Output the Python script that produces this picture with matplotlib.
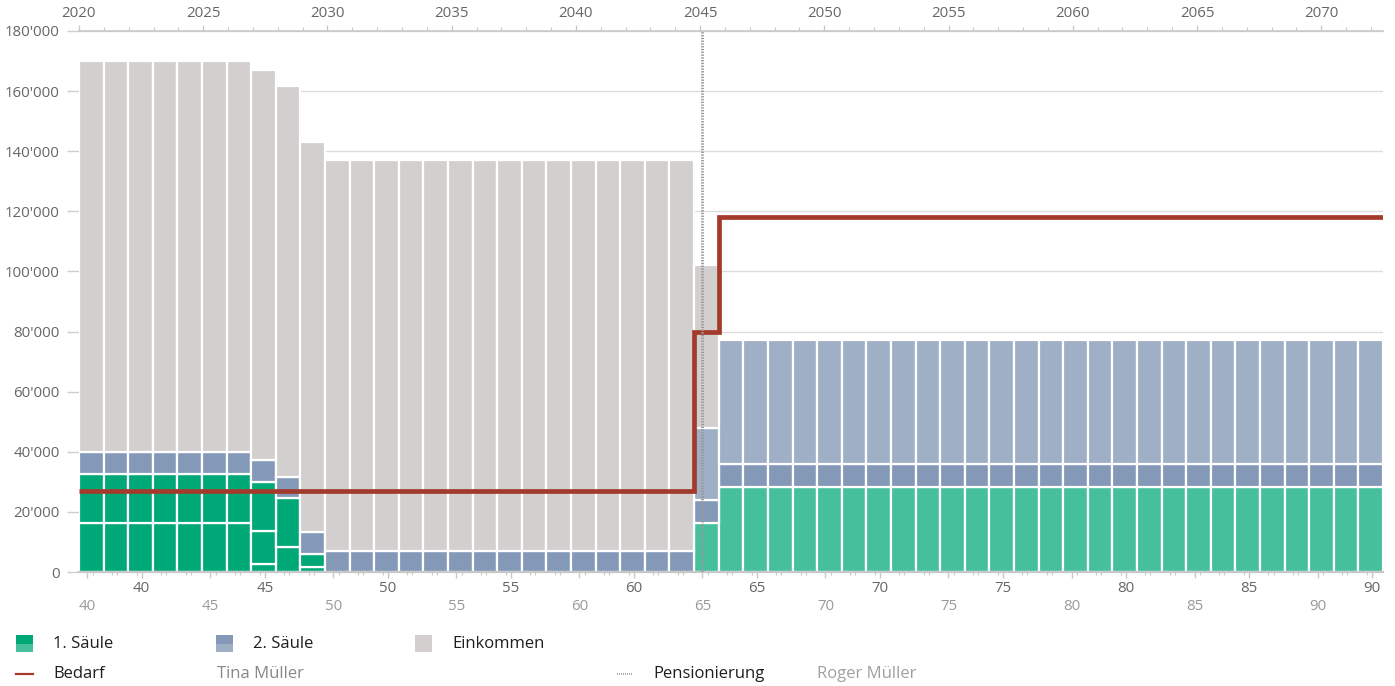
import numpy as np
import matplotlib
matplotlib.use("Agg")
import matplotlib.pyplot as plt
from matplotlib.patches import Rectangle
from matplotlib.lines import Line2D
from matplotlib.ticker import FuncFormatter, MultipleLocator

plt.rcParams['font.family'] = ['Open Sans', 'DejaVu Sans']

# ---------------- data ----------------
years = list(range(2020, 2073))  # 53 bars
n = len(years)

def seg(*parts):
    out = []
    for val, count in parts:
        out += [val] * count
    return out

# 1. Säule (dark green, three sub-segments in early years)
s1_dark_a = seg((16200, 7), (2600, 1), (8200, 1), (1800, 1), (0, 43))
s1_dark_b = seg((16300, 7), (11000, 1), (16300, 1), (4200, 1), (0, 43))
s1_dark_c = seg((0, 7), (16200, 1), (0, 45))
# 1. Säule (light green, after retirement)
s1_light = seg((0, 25), (16200, 1), (28200, 27))
# 2. Säule dark / light
s2_dark = seg((7500, 8), (7200, 2), (7100, 15), (7800, 1), (7700, 27))
s2_light = seg((0, 25), (24000, 1), (41300, 27))
# Einkommen
income = seg((130000, 7), (129700, 1), (130000, 1), (129800, 1), (129900, 15), (54000, 1), (0, 27))
# Bedarf
bedarf = seg((27000, 25), (80000, 1), (118000, 27))

# ages (relative to bar index) and retirement
tina_age_offset = 37.45
roger_age_offset = 39.66
retire_age_roger = 65

# ---------------- style ----------------
C_GREEN_D = '#00a878'
C_GREEN_L = '#46c09c'
C_BLUE_D = '#8499b8'
C_BLUE_L = '#9eafc6'
C_GRAY = '#d3cfcf'
C_RED = '#a23b2c'
C_TICK = '#666666'
C_TICK2 = '#9a9a9a'
C_AX = '#c8c8c8'

W, H = 1395, 686
fig = plt.figure(figsize=(W / 100, H / 100), dpi=100)
L, R, T, B = 79, 1383, 31, 572
ax = fig.add_axes([L / W, 1 - B / H, (R - L) / W, (B - T) / H])

x = np.arange(n)
stack = [
    (s1_dark_a, C_GREEN_D),
    (s1_dark_b, C_GREEN_D),
    (s1_dark_c, C_GREEN_D),
    (s1_light, C_GREEN_L),
    (s2_dark, C_BLUE_D),
    (s2_light, C_BLUE_L),
    (income, C_GRAY),
]
bottom = np.zeros(n)
for vals, col in stack:
    v = np.array(vals, dtype=float)
    m = v > 0
    ax.bar(x[m] + 0.5, v[m], width=1.0, bottom=bottom[m], color=col,
           edgecolor='white', linewidth=1.6, zorder=2)
    bottom += v

# Bedarf step line
xs = np.arange(n + 1)
ys = np.array(bedarf + [bedarf[-1]], dtype=float)
ax.step(xs, ys, where='post', color=C_RED, lw=3.4, zorder=5,
        solid_joinstyle='miter', solid_capstyle='butt')

# retirement line
ret_x = retire_age_roger - roger_age_offset
ax.axvline(ret_x, color='#999999', lw=2.0, dashes=(0.5, 0.5), zorder=6)

ax.set_xlim(0, n)
ax.set_ylim(0, 180000)
ax.set_yticks(np.arange(0, 180001, 20000))
ax.yaxis.set_major_formatter(FuncFormatter(lambda v, p: f"{int(v):,}".replace(',', "'")))
ax.grid(axis='y', color='#dcdcdc', lw=1.0, zorder=0)
ax.set_axisbelow(True)
for s in ['left', 'right']:
    ax.spines[s].set_visible(False)
ax.spines['top'].set_color(C_AX)
ax.spines['top'].set_linewidth(1.2)
ax.spines['bottom'].set_color(C_AX)
ax.spines['bottom'].set_linewidth(1.6)
ax.tick_params(axis='y', length=9, width=1, color='#cfcfcf', pad=5,
               labelsize=10.8, labelcolor=C_TICK)
ax.tick_params(axis='x', bottom=False, labelbottom=False, top=False)

# top year axis
k = 0.9903
top = ax.secondary_xaxis('top', functions=(lambda b: 2020 + b * k, lambda y: (y - 2020) / k))
top.set_xticks(np.arange(2020, 2071, 5))
top.xaxis.set_minor_locator(MultipleLocator(1))
top.tick_params(which='major', length=4.5, width=1, color=C_AX, pad=3,
                labelsize=10.8, labelcolor=C_TICK)
top.tick_params(which='minor', length=3, width=0.8, color=C_AX)
top.spines['top'].set_visible(False)

# bottom: Tina ages
tina = ax.secondary_xaxis('bottom', functions=(lambda b: b + tina_age_offset,
                                                 lambda a: a - tina_age_offset))
tina.set_xticks(np.arange(40, 91, 5))
tina.xaxis.set_minor_locator(MultipleLocator(1))
tina.tick_params(which='major', length=4.5, width=1, color=C_AX, pad=2,
                 labelsize=10.8, labelcolor=C_TICK)
tina.tick_params(which='minor', length=2.5, width=0.8, color=C_AX)
tina.spines['bottom'].set_visible(False)

# bottom: Roger ages
roger = ax.secondary_xaxis('bottom', functions=(lambda b: b + roger_age_offset,
                                                  lambda a: a - roger_age_offset))
roger.set_xticks(np.arange(40, 91, 5))
roger.xaxis.set_minor_locator(MultipleLocator(1))
roger.tick_params(which='major', length=4.5, width=1, color=C_AX, pad=15,
                  labelsize=10.8, labelcolor=C_TICK2)
roger.tick_params(which='minor', length=2.5, width=0.8, color=C_AX)
roger.spines['bottom'].set_visible(False)

# ---------------- legend ----------------
def fx(px):
    return px / W

def fy(py):
    return 1 - py / H

def swatch(x0, c_top, c_bot):
    if c_bot is None:
        fig.add_artist(Rectangle((fx(x0), fy(652)), 17 / W, 17 / H,
                                 transform=fig.transFigure, color=c_top, lw=0))
    else:
        fig.add_artist(Rectangle((fx(x0), fy(643.5)), 17 / W, 8.5 / H,
                                 transform=fig.transFigure, color=c_top, lw=0))
        fig.add_artist(Rectangle((fx(x0), fy(652)), 17 / W, 8.5 / H,
                                 transform=fig.transFigure, color=c_bot, lw=0))

LEG_FS = 12
swatch(16, C_GREEN_D, C_GREEN_L)
fig.text(fx(53), fy(644), '1. Säule', fontsize=LEG_FS, color='#1e1e1e', va='center')
swatch(216, C_BLUE_D, C_BLUE_L)
fig.text(fx(253), fy(644), '2. Säule', fontsize=LEG_FS, color='#1e1e1e', va='center')
swatch(415, C_GRAY, None)
fig.text(fx(452), fy(644), 'Einkommen', fontsize=LEG_FS, color='#1e1e1e', va='center')

fig.add_artist(Line2D([fx(16), fx(33)], [fy(674), fy(674)], transform=fig.transFigure,
                      color=C_RED, lw=1.6))
fig.text(fx(53), fy(674), 'Bedarf', fontsize=LEG_FS, color='#1e1e1e', va='center')
fig.text(fx(217), fy(674), 'Tina Müller', fontsize=LEG_FS, color='#888888', va='center')
fig.add_artist(Line2D([fx(617), fx(632)], [fy(674), fy(674)], transform=fig.transFigure,
                      color='#9a9a9a', lw=1.2, dashes=(0.6, 0.6)))
fig.text(fx(653), fy(674), 'Pensionierung', fontsize=LEG_FS, color='#1e1e1e', va='center')
fig.text(fx(817), fy(674), 'Roger Müller', fontsize=LEG_FS, color='#a0a0a0', va='center')

fig.savefig('out.png', dpi=100, facecolor='white')
